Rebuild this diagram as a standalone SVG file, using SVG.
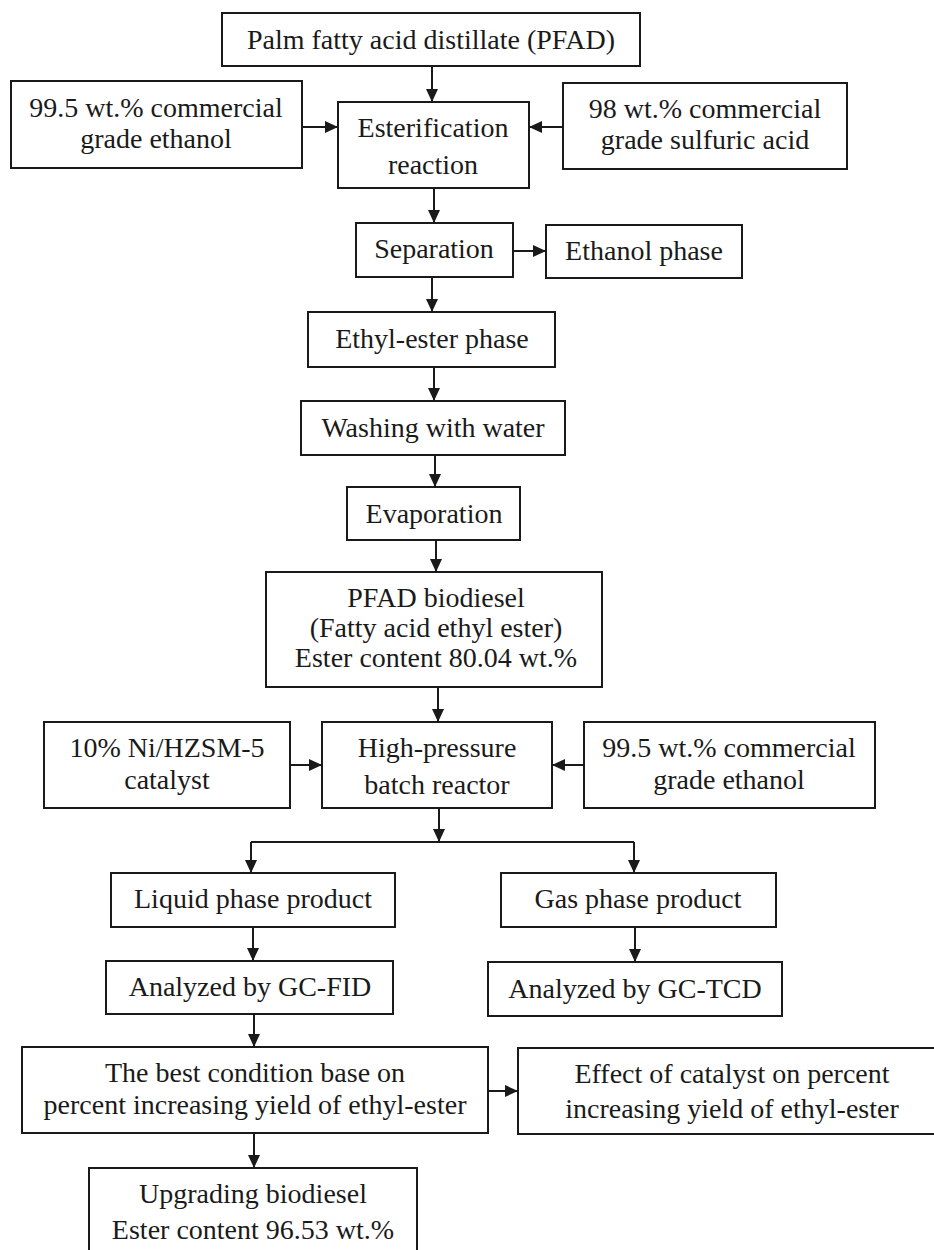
<svg xmlns="http://www.w3.org/2000/svg" width="934" height="1250" viewBox="0 0 934 1250">
<defs>
<style>
rect{fill:#fff;stroke:#1a1a1a;stroke-width:2}
text{font-family:"Liberation Serif","Times New Roman",serif;font-size:28px;fill:#1a1a1a;text-anchor:middle}
.c line,.c path{stroke:#1a1a1a;stroke-width:2;fill:none}
</style>
<marker id="ah" markerUnits="userSpaceOnUse" markerWidth="14" markerHeight="14" viewBox="0 0 14 14" refX="13" refY="7" orient="auto">
<path d="M0,1 L13,7 L0,13 Z" fill="#1a1a1a"/>
</marker>
</defs>
<rect x="0" y="0" width="934" height="1250" style="fill:#fff;stroke:none"/>
<g class="c" id="connectors">
<line x1="432" y1="66" x2="432" y2="102" marker-end="url(#ah)"/>
<line x1="302" y1="127" x2="338" y2="127" marker-end="url(#ah)"/>
<line x1="563" y1="127" x2="529" y2="127" marker-end="url(#ah)"/>
<line x1="434" y1="188" x2="434" y2="223" marker-end="url(#ah)"/>
<line x1="513" y1="251" x2="546" y2="251" marker-end="url(#ah)"/>
<line x1="432" y1="277" x2="432" y2="312" marker-end="url(#ah)"/>
<line x1="434" y1="367" x2="434" y2="401" marker-end="url(#ah)"/>
<line x1="435" y1="455" x2="435" y2="487" marker-end="url(#ah)"/>
<line x1="436" y1="540" x2="436" y2="572" marker-end="url(#ah)"/>
<line x1="438" y1="687" x2="438" y2="722" marker-end="url(#ah)"/>
<line x1="290" y1="765" x2="322" y2="765" marker-end="url(#ah)"/>
<line x1="584" y1="765" x2="552" y2="765" marker-end="url(#ah)"/>
<line x1="439" y1="808" x2="439" y2="842" marker-end="url(#ah)"/>
<line x1="251" y1="842" x2="634" y2="842"/>
<line x1="251" y1="842" x2="251" y2="873" marker-end="url(#ah)"/>
<line x1="634" y1="842" x2="634" y2="873" marker-end="url(#ah)"/>
<line x1="253" y1="927" x2="253" y2="961" marker-end="url(#ah)"/>
<line x1="635" y1="927" x2="635" y2="962" marker-end="url(#ah)"/>
<line x1="254" y1="1014" x2="254" y2="1047" marker-end="url(#ah)"/>
<line x1="488" y1="1091" x2="518" y2="1091" marker-end="url(#ah)"/>
<line x1="254" y1="1133" x2="254" y2="1168" marker-end="url(#ah)"/>
</g>
<g id="pfad"><rect x="222" y="13" width="418" height="53"/><text x="431" y="49">Palm fatty acid distillate (PFAD)</text></g>
<g id="ethanol1"><rect x="11" y="81" width="291" height="87"/><text x="156" y="117">99.5 wt.% commercial</text><text x="156" y="148">grade ethanol</text></g>
<g id="esterification"><rect x="338" y="102" width="191" height="86"/><text x="433" y="137">Esterification</text><text x="433" y="174">reaction</text></g>
<g id="sulfuric"><rect x="563" y="83" width="284" height="86"/><text x="705" y="118">98 wt.% commercial</text><text x="705" y="149">grade sulfuric acid</text></g>
<g id="separation"><rect x="356" y="223" width="157" height="54"/><text x="434" y="258">Separation</text></g>
<g id="ethanolphase"><rect x="546" y="225" width="196" height="53"/><text x="644" y="260">Ethanol phase</text></g>
<g id="ethylester"><rect x="308" y="312" width="247" height="55"/><text x="432" y="348">Ethyl-ester phase</text></g>
<g id="washing"><rect x="301" y="401" width="264" height="54"/><text x="433" y="437">Washing with water</text></g>
<g id="evaporation"><rect x="347" y="487" width="173" height="53"/><text x="434" y="523">Evaporation</text></g>
<g id="biodiesel"><rect x="266" y="572" width="336" height="115"/><text x="436" y="607">PFAD biodiesel</text><text x="436" y="637">(Fatty acid ethyl ester)</text><text x="436" y="667">Ester content 80.04 wt.%</text></g>
<g id="catalyst"><rect x="44" y="722" width="246" height="86"/><text x="167" y="757">10% Ni/HZSM-5</text><text x="167" y="789">catalyst</text></g>
<g id="reactor"><rect x="322" y="722" width="230" height="86"/><text x="437" y="757">High-pressure</text><text x="437" y="794">batch reactor</text></g>
<g id="ethanol2"><rect x="584" y="722" width="291" height="86"/><text x="729" y="757">99.5 wt.% commercial</text><text x="729" y="789">grade ethanol</text></g>
<g id="liquid"><rect x="111" y="873" width="284" height="54"/><text x="253" y="908">Liquid phase product</text></g>
<g id="gas"><rect x="501" y="873" width="275" height="54"/><text x="638" y="908">Gas phase product</text></g>
<g id="fid"><rect x="106" y="961" width="287" height="53"/><text x="250" y="996">Analyzed by GC-FID</text></g>
<g id="tcd"><rect x="488" y="962" width="294" height="54"/><text x="635" y="998">Analyzed by GC-TCD</text></g>
<g id="best"><rect x="22" y="1047" width="466" height="86"/><text x="255" y="1082">The best condition base on</text><text x="255" y="1114">percent increasing yield of ethyl-ester</text></g>
<g id="effect"><rect x="518" y="1048" width="428" height="86"/><text x="732" y="1083">Effect of catalyst on percent</text><text x="732" y="1118">increasing yield of ethyl-ester</text></g>
<g id="upgrade"><rect x="89" y="1168" width="328" height="92"/><text x="253" y="1203">Upgrading biodiesel</text><text x="253" y="1239">Ester content 96.53 wt.%</text></g>
</svg>
